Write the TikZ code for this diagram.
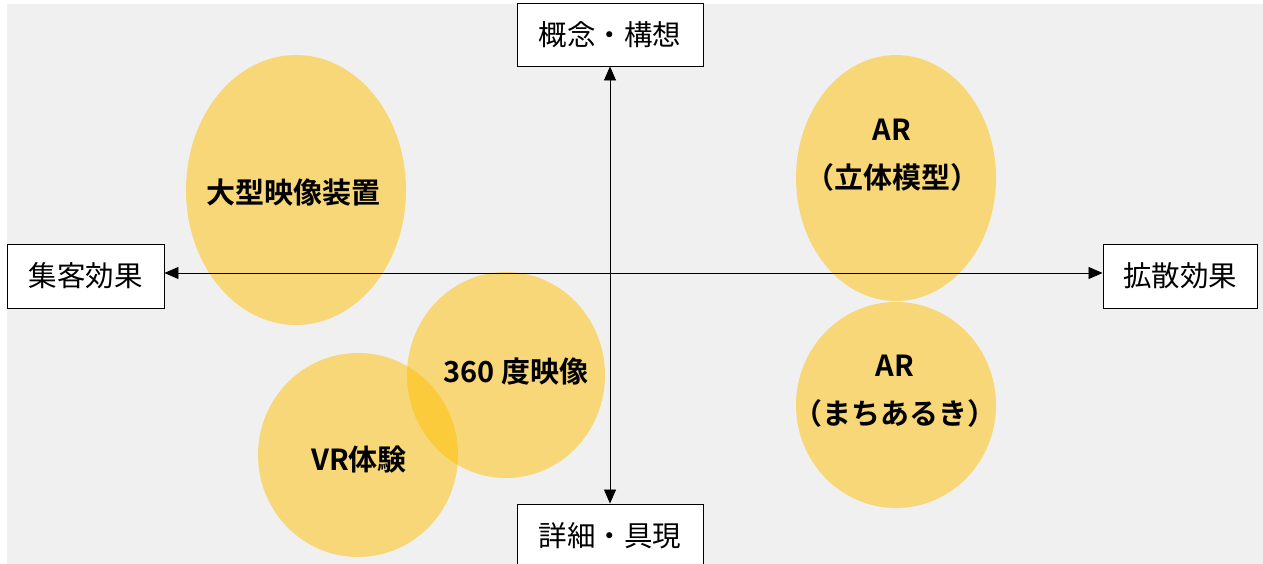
\documentclass[tikz,border=0pt]{standalone}
\usepackage{fontspec}
\setmainfont{Noto Sans CJK JP}[BoldFont={Noto Sans CJK JP Bold}]
\usetikzlibrary{shapes.geometric,arrows.meta}
\definecolor{bg}{HTML}{F0F0F0}
\definecolor{ell}{HTML}{FFC000}
\tikzset{
  axisbox/.style={draw=black, fill=white, line width=0.9pt, inner sep=0pt,
    font=\fontsize{28.5}{32}\selectfont},
  blob/.style={ellipse, fill=ell, fill opacity=0.5, draw=none, inner sep=0pt},
  blobtext/.style={font=\fontsize{29}{48}\selectfont\bfseries, align=center, text opacity=1},
  axisline/.style={line width=0.8pt, {Triangle[length=14pt,width=12pt]}-{Triangle[length=14pt,width=12pt]}}
}
\begin{document}
\begin{tikzpicture}[x=1pt,y=-1pt]
\useasboundingbox (0,0) rectangle (1263,564);
\fill[bg] (7,4) rectangle (1263,564);
% ellipses
\node[blob, minimum width=220, minimum height=270] (e1) at (296,190) {};
\node[blob, minimum width=200, minimum height=246] (e2) at (896,178) {};
\node[blob, minimum width=200, minimum height=206] (e3) at (896,405) {};
\node[blob, minimum width=198, minimum height=206] (e4) at (506,375) {};
\node[blob, minimum width=200, minimum height=204] (e5) at (358,455) {};
% axes boxes
\node[axisbox, minimum width=186, minimum height=63] (top) at (610,34.5) {\raisebox{-2pt}{概念・構想}};
\node[axisbox, minimum width=186, minimum height=63] (bot) at (610,535.5) {\raisebox{-2pt}{詳細・具現}};
\node[axisbox, minimum width=157, minimum height=64] (lft) at (85.5,276) {\raisebox{-2pt}{集客効果}};
\node[axisbox, minimum width=154, minimum height=64] (rgt) at (1180,276) {\raisebox{-2pt}{拡散効果}};
\coordinate (o) at (609,273);
\draw[axisline] (top.south) -- (bot.north);
\draw[axisline] (o -| lft.east) -- (o -| rgt.west);
% labels
\node[blobtext] (t1) at (293,193) {大型映像装置};
\node[blobtext] (t2) at (892,155) {AR\\（立体模型）};
\node[blobtext] (t3) at (895,391) {AR\\（まちあるき）};
\node[blobtext] (t4) at (516,372) {360 度映像};
\node[blobtext] (t5) at (359,460) {VR体験};
\end{tikzpicture}
\end{document}
